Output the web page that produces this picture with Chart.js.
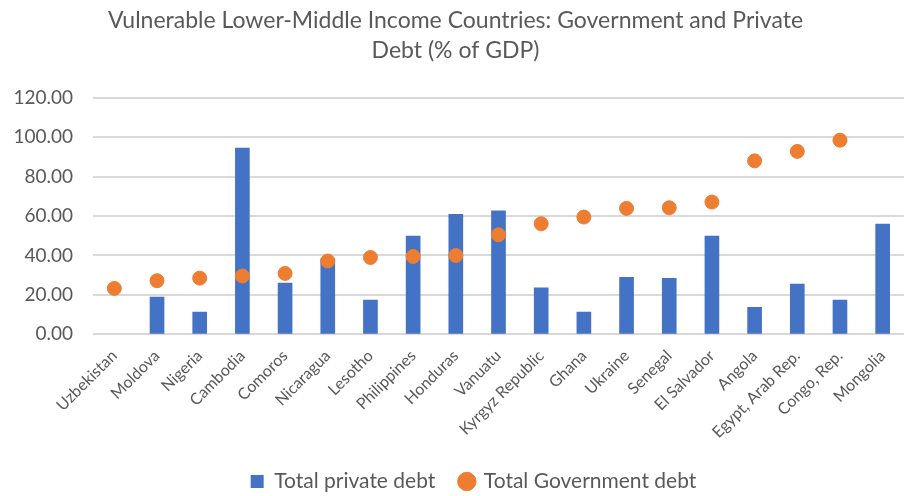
<!DOCTYPE html>
<html>
<head>
<meta charset="utf-8">
<script src="https://cdn.jsdelivr.net/npm/chart.js@4"></script>
<style>
  body { margin: 0; background: #fff; }
</style>
</head>
<body>
<canvas id="debtChart" width="912" height="496"></canvas>
<script>
var countries = [
  "Uzbekistan", "Moldova", "Nigeria", "Cambodia", "Comoros", "Nicaragua",
  "Lesotho", "Philippines", "Honduras", "Vanuatu", "Kyrgyz Republic", "Ghana",
  "Ukraine", "Senegal", "El Salvador", "Angola", "Egypt, Arab Rep.",
  "Congo, Rep.", "Mongolia"
];
var privateDebt = [null, 18.9, 11.3, 94.5, 26.0, 38.3, 17.4, 49.8, 60.9, 62.7,
  23.6, 11.3, 28.9, 28.4, 49.8, 13.7, 25.5, 17.4, 55.9];
var govDebt = [23.3, 27.2, 28.5, 29.6, 30.9, 37.2, 39.0, 39.5, 40.0, 50.5,
  56.1, 59.5, 63.9, 64.2, 67.1, 88.0, 92.8, 98.5, null];
var yTicks = [0, 20, 40, 60, 80, 100, 120];

Chart.defaults.font.family = "Lato, 'Open Sans', sans-serif";
Chart.defaults.color = "#595959";

// the original legend sits a little right of centre
var legendShift = {
  id: "legendShift",
  afterLayout: function (chart) {
    chart.legend.left += 18;
    chart.legend.right += 18;
  }
};

var ctx = document.getElementById("debtChart");

var debtChart = new Chart(ctx, {
  type: "bar",
  data: {
    labels: countries,
    datasets: [
      {
        label: "Total private debt",
        data: privateDebt,
        backgroundColor: "#4472c4",
        barThickness: 14,
        pointStyle: "rect",
        order: 2
      },
      {
        type: "line",
        label: "Total Government debt",
        data: govDebt,
        showLine: false,
        backgroundColor: "#ed7d31",
        borderColor: "#ed7d31",
        pointRadius: 7,
        pointHoverRadius: 7,
        pointStyle: "circle",
        order: 1
      }
    ]
  },
  plugins: [legendShift],
  options: {
    responsive: false,
    animation: false,
    layout: { padding: { left: 0, right: 1, top: 2, bottom: 0 } },
    plugins: {
      title: {
        display: true,
        text: ["Vulnerable Lower-Middle Income Countries: Government and Private", "Debt (% of GDP)"],
        font: { size: 23, weight: "normal", lineHeight: 1.3 },
        color: "#595959",
        padding: { top: 4, bottom: 32 }
      },
      legend: {
        position: "bottom",
        maxHeight: 50,
        labels: {
          usePointStyle: true,
          boxWidth: 13,
          boxHeight: 13,
          padding: 25,
          font: { size: 21 },
          color: "#595959",
          sort: function (a, b) { return a.datasetIndex - b.datasetIndex; }
        }
      },
      tooltip: { enabled: false }
    },
    scales: {
      x: {
        grid: { display: false },
        border: { display: false },
        ticks: {
          minRotation: 45,
          maxRotation: 45,
          padding: 4,
          font: { size: 16 },
          color: "#595959"
        }
      },
      y: {
        min: 0,
        max: 120,
        afterBuildTicks: function (axis) {
          axis.ticks = yTicks.map(function (v) { return { value: v }; });
        },
        afterFit: function (axis) { axis.width = 93; },
        grid: { color: "#d9d9d9", lineWidth: 2, drawTicks: false },
        border: { display: false },
        ticks: {
          padding: 20,
          font: { size: 19 },
          color: "#595959",
          callback: function (v) { return Number(v).toFixed(2); }
        }
      }
    }
  }
});
</script>
</body>
</html>
